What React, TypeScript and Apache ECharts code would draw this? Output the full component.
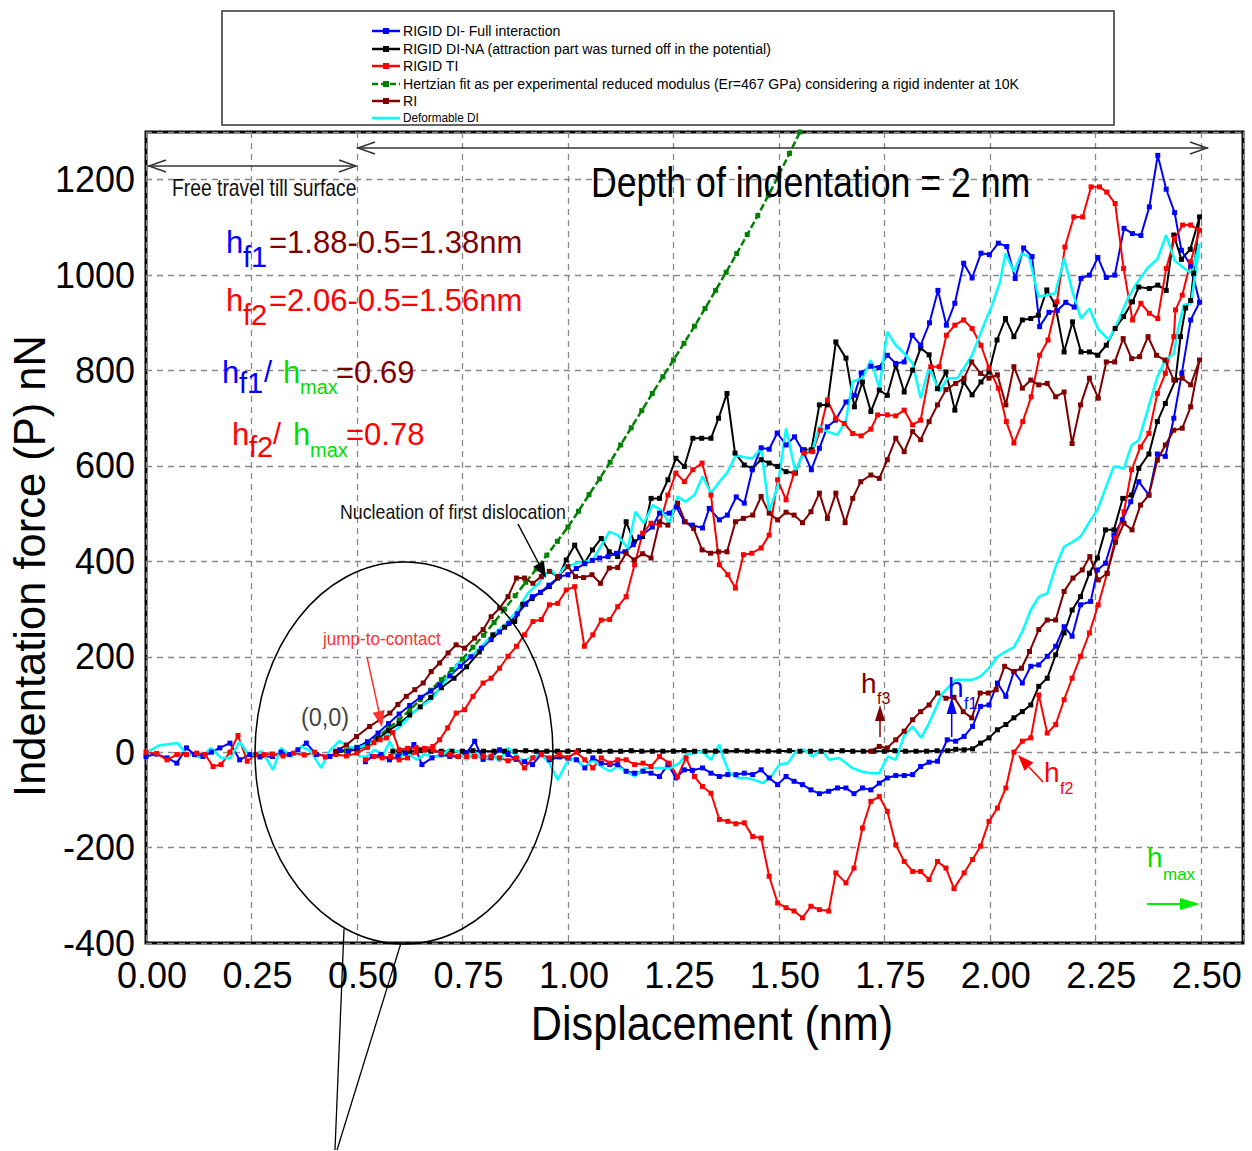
import React, { useEffect, useRef } from "react";
import * as echarts from "echarts";

const REG = "'Liberation Sans', Arial, sans-serif";

const legendNames = [
  "RIGID DI- Full interaction",
  "RIGID DI-NA (attraction part was turned off in the potential)",
  "RIGID TI",
  "Hertzian fit as per experimental reduced modulus (Er=467 GPa) considering a rigid indenter at 10K",
  "RI",
  "Deformable DI",
];

const blueLoad = [
  [0, -9], [0.025, -4], [0.05, -12], [0.073, -23], [0.096, 9], [0.115, -5], [0.135, -9], [0.155, 0], [0.175, 9], [0.199, 19],
  [0.222, -16], [0.246, -5], [0.27, -10], [0.3, -9], [0.32, 0], [0.34, -5], [0.36, 5], [0.38, 19], [0.404, -5], [0.436, -9],
  [0.459, 5], [0.48, 2], [0.5, 10], [0.525, 22], [0.55, 40], [0.575, 60], [0.6, 80], [0.625, 98], [0.65, 115], [0.675, 128],
  [0.696, 141], [0.72, 160], [0.745, 180], [0.77, 200], [0.795, 218], [0.818, 236], [0.838, 252], [0.86, 270], [0.88, 290],
  [0.9, 310], [0.916, 326], [0.935, 335], [0.955, 350], [0.98, 368], [1.0, 372], [1.02, 385], [1.04, 395], [1.058, 402],
  [1.075, 407], [1.095, 410], [1.115, 417], [1.135, 420], [1.155, 435], [1.17, 451], [1.2, 472], [1.217, 501], [1.24, 501],
  [1.257, 514], [1.276, 483], [1.295, 476], [1.319, 470], [1.335, 511], [1.359, 487], [1.378, 497], [1.399, 535], [1.418, 522],
  [1.437, 592], [1.458, 638], [1.477, 635], [1.496, 669], [1.517, 644], [1.537, 661], [1.556, 633], [1.577, 592], [1.596, 637],
  [1.615, 682], [1.634, 696], [1.659, 734], [1.679, 748], [1.695, 795], [1.718, 809], [1.737, 806], [1.757, 832], [1.777, 815],
  [1.797, 818], [1.816, 874], [1.836, 853], [1.857, 900], [1.877, 968], [1.897, 895], [1.917, 941], [1.938, 1025], [1.958, 994],
  [1.979, 1046], [1.999, 1043], [2.02, 1067], [2.04, 1060], [2.06, 993], [2.08, 1057], [2.1, 1039], [2.118, 892], [2.14, 922],
  [2.16, 926], [2.18, 943], [2.2, 933], [2.216, 993], [2.236, 1000], [2.256, 1037], [2.276, 995], [2.296, 1000], [2.318, 1098],
  [2.338, 1087], [2.358, 1083], [2.378, 1143], [2.398, 1251], [2.418, 1180], [2.438, 1131], [2.454, 1052], [2.476, 1020], [2.497, 943],
];
const blueUnload = [
  [2.476, 906], [2.455, 794], [2.436, 700], [2.416, 620], [2.397, 625], [2.377, 539], [2.353, 567], [2.334, 525], [2.314, 487],
  [2.294, 455], [2.274, 396], [2.255, 382], [2.239, 316], [2.215, 309], [2.195, 243], [2.176, 263], [2.156, 222], [2.136, 201],
  [2.116, 183], [2.097, 180], [2.077, 145], [2.057, 169], [2.038, 117], [2.018, 145], [1.998, 99], [1.978, 96], [1.959, 54],
  [1.939, 33], [1.919, 23], [1.899, 26], [1.876, -19], [1.856, -21], [1.836, -30], [1.817, -47], [1.797, -49], [1.777, -49],
  [1.757, -54], [1.738, -65], [1.718, -79], [1.698, -75], [1.678, -87], [1.659, -75], [1.639, -75], [1.618, -82], [1.596, -87],
  [1.576, -79], [1.556, -68], [1.536, -61], [1.517, -51], [1.497, -68], [1.477, -54], [1.458, -37], [1.438, -47], [1.418, -44],
  [1.398, -47], [1.379, -47], [1.359, -51], [1.339, -44], [1.319, -33], [1.295, -38], [1.276, -37], [1.256, -54], [1.237, -26],
  [1.217, -51], [1.197, -44], [1.178, -40], [1.158, -44], [1.138, -40], [1.118, -26], [1.099, -26], [1.079, -23], [1.059, -12],
  [1.04, -33], [1.02, -16], [1.0, -12], [0.98, -10], [0.956, -16], [0.936, -5], [0.916, -26], [0.897, -20], [0.877, -15],
  [0.858, -5], [0.838, 5], [0.818, -12], [0.799, -15], [0.779, 23], [0.76, -2], [0.74, -9], [0.72, -9], [0.7, -5], [0.678, -12],
  [0.654, -26], [0.635, 16], [0.615, -2], [0.597, -9], [0.577, -16], [0.557, -5], [0.537, -9], [0.52, -20],
];

const blackLoad = [
  [0.45, 0], [0.5, 5], [0.525, 15], [0.55, 28], [0.575, 45], [0.6, 60], [0.625, 78], [0.65, 95], [0.675, 115], [0.7, 135],
  [0.73, 155], [0.76, 179], [0.79, 210], [0.822, 246], [0.85, 262], [0.874, 274], [0.893, 310], [0.915, 322], [0.935, 335],
  [0.956, 347], [0.976, 365], [0.996, 403], [1.016, 434], [1.039, 396], [1.058, 424], [1.079, 448], [1.098, 420], [1.118, 410],
  [1.138, 483], [1.157, 441], [1.177, 452], [1.197, 532], [1.217, 532], [1.237, 571], [1.256, 616], [1.276, 599], [1.296, 658],
  [1.317, 658], [1.339, 658], [1.357, 700], [1.377, 752], [1.396, 627], [1.418, 602], [1.437, 595], [1.458, 613], [1.477, 606],
  [1.497, 599], [1.517, 588], [1.539, 585], [1.56, 634], [1.577, 634], [1.596, 728], [1.615, 728], [1.635, 860], [1.659, 826],
  [1.679, 724], [1.698, 776], [1.718, 714], [1.738, 759], [1.757, 748], [1.777, 812], [1.797, 755], [1.817, 801], [1.836, 847],
  [1.856, 833], [1.876, 762], [1.896, 797], [1.917, 717], [1.938, 776], [1.958, 749], [1.979, 776], [1.998, 797], [2.017, 864],
  [2.037, 909], [2.057, 871], [2.077, 906], [2.097, 909], [2.115, 916], [2.135, 969], [2.155, 938], [2.176, 839], [2.196, 902],
  [2.216, 839], [2.236, 839], [2.256, 832], [2.276, 853], [2.297, 888], [2.317, 913], [2.338, 944], [2.353, 975], [2.378, 972],
  [2.398, 979], [2.418, 968], [2.436, 1084], [2.454, 1033], [2.475, 1054], [2.497, 1122],
];
const blackUnload = [
  [2.483, 1004], [2.476, 947], [2.464, 931], [2.452, 871], [2.44, 780], [2.416, 731], [2.397, 693], [2.377, 625], [2.353, 595],
  [2.336, 539], [2.315, 532], [2.294, 466], [2.274, 466], [2.255, 407], [2.236, 375], [2.215, 326], [2.195, 298], [2.176, 250],
  [2.156, 204], [2.136, 155], [2.116, 138], [2.097, 99], [2.077, 85], [2.057, 72], [2.038, 58], [2.018, 47], [1.998, 30],
  [1.978, 19], [1.959, 7], [1.939, 5], [1.919, 6], [1.9, 3],
  [1.875, 3], [1.85, 2], [1.825, 2], [1.8, 2], [1.775, 3], [1.75, 2], [1.725, 2], [1.7, 2], [1.675, 2], [1.65, 3], [1.625, 2],
  [1.6, 2], [1.575, 2], [1.55, 2], [1.525, 3], [1.5, 2], [1.475, 2], [1.45, 2], [1.425, 2], [1.4, 3], [1.375, 2], [1.35, 2],
  [1.325, 2], [1.3, 2], [1.275, 3], [1.25, 2], [1.225, 2], [1.2, 2], [1.175, 2], [1.15, 3], [1.125, 2], [1.1, 2], [1.075, 2],
  [1.05, 2], [1.025, 3], [1.0, 2], [0.975, 2], [0.95, 2], [0.925, 2], [0.9, 3], [0.875, 2], [0.85, 2], [0.825, 2], [0.8, 2],
  [0.775, 3], [0.75, 2], [0.725, 2], [0.7, 2], [0.675, 2], [0.65, 3], [0.625, 2], [0.6, 2], [0.585, 2],
];

const redLoad = [
  [0, 0], [0.025, -3], [0.05, -16], [0.073, -5], [0.096, -5], [0.12, -2], [0.14, -5], [0.159, -30], [0.178, -26], [0.199, 0],
  [0.218, 35], [0.24, -19], [0.26, -5], [0.28, -5], [0.3, -4], [0.325, -8], [0.35, -2], [0.375, -6], [0.4, 0], [0.425, -10],
  [0.45, -5], [0.475, -8], [0.5, -2], [0.525, 10], [0.54, 20], [0.555, 26], [0.57, 30], [0.585, 41], [0.6, 5], [0.62, 8],
  [0.64, 10], [0.66, 8], [0.68, 12], [0.696, 26], [0.715, 51], [0.735, 82], [0.755, 89], [0.775, 117], [0.799, 145], [0.818, 155],
  [0.838, 176], [0.858, 201], [0.878, 222], [0.897, 246], [0.917, 274], [0.937, 278], [0.956, 309], [0.976, 312], [0.996, 340],
  [1.016, 347], [1.039, 222], [1.059, 246], [1.079, 277], [1.099, 278], [1.118, 305], [1.138, 326], [1.158, 393], [1.177, 459],
  [1.197, 480], [1.217, 476], [1.237, 539], [1.256, 585], [1.276, 567], [1.296, 592], [1.318, 606], [1.339, 539], [1.359, 393],
  [1.379, 372], [1.397, 344], [1.416, 414], [1.436, 417], [1.458, 428], [1.477, 455], [1.497, 571], [1.517, 529], [1.536, 585],
  [1.56, 627], [1.58, 630], [1.598, 675], [1.615, 738], [1.635, 700], [1.655, 689], [1.675, 668], [1.695, 663], [1.718, 677],
  [1.734, 707], [1.757, 707], [1.777, 705], [1.797, 717], [1.817, 686], [1.836, 696], [1.86, 808], [1.88, 808], [1.897, 874],
  [1.917, 895], [1.938, 906], [1.958, 888], [1.979, 853], [1.998, 805], [2.02, 763], [2.039, 693], [2.057, 648], [2.078, 693],
  [2.098, 745], [2.118, 832], [2.138, 864], [2.159, 944], [2.178, 1059], [2.199, 1122], [2.22, 1122], [2.24, 1185], [2.26, 1185],
  [2.277, 1174], [2.297, 1150], [2.317, 1014], [2.338, 906], [2.358, 941], [2.378, 920], [2.398, 909], [2.418, 1014], [2.438, 1077],
  [2.457, 1105], [2.476, 1105], [2.497, 1094],
];
const redUnload = [
  [2.476, 1028], [2.456, 958], [2.44, 927], [2.436, 871], [2.416, 794], [2.397, 752], [2.377, 668], [2.357, 640], [2.336, 592],
  [2.318, 504], [2.298, 449], [2.278, 375], [2.257, 309], [2.236, 250], [2.215, 201], [2.195, 155], [2.176, 110], [2.156, 58],
  [2.136, 40], [2.116, 120], [2.097, 30], [2.077, 23], [2.057, 0], [2.038, -75], [2.018, -117], [1.998, -145], [1.978, -197],
  [1.959, -225], [1.939, -253], [1.915, -286], [1.896, -243], [1.876, -229], [1.856, -267], [1.836, -250], [1.817, -250],
  [1.797, -229], [1.777, -194], [1.757, -124], [1.738, -93], [1.718, -103], [1.698, -159], [1.678, -243], [1.659, -274],
  [1.635, -253], [1.618, -333], [1.596, -330], [1.576, -323], [1.556, -347], [1.536, -333], [1.517, -326], [1.497, -316],
  [1.477, -260], [1.458, -180], [1.438, -177], [1.418, -148], [1.398, -150], [1.379, -145], [1.359, -141], [1.339, -86],
  [1.319, -72], [1.3, -51], [1.28, -12], [1.26, -51], [1.24, -23], [1.217, -9], [1.197, -30], [1.178, -23], [1.158, -26],
  [1.138, -16], [1.118, -16], [1.099, -23], [1.079, -12], [1.059, -33], [1.04, -16], [1.02, 0], [1.0, -12], [0.98, -5],
  [0.956, -12], [0.937, -5], [0.917, -12], [0.897, -33], [0.878, -12], [0.858, -18], [0.838, -12], [0.818, -9], [0.799, -9],
  [0.779, -9], [0.76, -9], [0.74, -9], [0.72, -5], [0.7, -2], [0.68, 5], [0.66, 5], [0.64, 0], [0.62, -12], [0.6, -16],
  [0.58, -9], [0.56, -12], [0.54, -9], [0.52, -16],
];

const hertzFit = [
  [0.45, 0], [0.475, 3], [0.5, 10], [0.525, 20], [0.55, 33], [0.575, 50], [0.6, 68], [0.625, 88], [0.65, 110], [0.675, 130],
  [0.7, 152], [0.725, 173], [0.75, 195], [0.775, 220], [0.8, 245], [0.825, 272], [0.85, 300], [0.875, 328], [0.9, 356],
  [0.925, 384], [0.95, 413], [0.975, 442], [1.0, 472], [1.025, 505], [1.05, 540], [1.075, 573], [1.1, 608], [1.125, 644],
  [1.15, 680], [1.175, 716], [1.2, 752], [1.225, 787], [1.25, 822], [1.275, 857], [1.3, 893], [1.325, 930], [1.35, 968],
  [1.375, 1006], [1.4, 1045], [1.425, 1085], [1.45, 1125], [1.475, 1167], [1.5, 1210], [1.525, 1255], [1.55, 1300], [1.575, 1345],
];

const riLoad = [
  [0.45, 2], [0.475, 15], [0.499, 33], [0.53, 54], [0.554, 68], [0.578, 82], [0.597, 100], [0.617, 117], [0.637, 131],
  [0.657, 145], [0.676, 169], [0.696, 187], [0.716, 208], [0.735, 225], [0.755, 218], [0.779, 239], [0.799, 257], [0.818, 284],
  [0.838, 302], [0.858, 326], [0.878, 365], [0.897, 365], [0.917, 354], [0.937, 368], [0.956, 379], [0.976, 368], [1.0, 389],
  [1.018, 368], [1.037, 366], [1.057, 372], [1.077, 354], [1.098, 386], [1.118, 387], [1.138, 417], [1.157, 403], [1.177, 416],
  [1.197, 407], [1.217, 483], [1.237, 476], [1.26, 522], [1.278, 483], [1.298, 469], [1.318, 424], [1.338, 417], [1.357, 420],
  [1.377, 420], [1.397, 483], [1.416, 490], [1.438, 497], [1.458, 536], [1.477, 501], [1.497, 487], [1.517, 503], [1.536, 497],
  [1.556, 481], [1.576, 504], [1.596, 543], [1.615, 490], [1.635, 543], [1.657, 481], [1.675, 532], [1.694, 567], [1.718, 581],
  [1.738, 574], [1.757, 613], [1.777, 658], [1.797, 630], [1.817, 672], [1.836, 655], [1.856, 693], [1.876, 728], [1.896, 760],
  [1.919, 773], [1.939, 784], [1.957, 818], [1.978, 794], [1.998, 784], [2.018, 791], [2.038, 728], [2.057, 808], [2.077, 763],
  [2.097, 780], [2.116, 770], [2.136, 773], [2.156, 745], [2.176, 755], [2.195, 647], [2.215, 728], [2.236, 784], [2.257, 742],
  [2.276, 818], [2.296, 818], [2.316, 867], [2.336, 825], [2.355, 829], [2.375, 871], [2.395, 832], [2.415, 822], [2.436, 780],
  [2.456, 784], [2.476, 770], [2.497, 822],
];
const riUnload = [
  [2.476, 724], [2.456, 679], [2.436, 675], [2.416, 644], [2.397, 612], [2.377, 539], [2.357, 518], [2.337, 466], [2.318, 480],
  [2.298, 440], [2.278, 375], [2.257, 361], [2.237, 410], [2.219, 382], [2.197, 365], [2.176, 337], [2.156, 277], [2.136, 277],
  [2.116, 257], [2.094, 211], [2.075, 176], [2.057, 169], [2.035, 180], [2.015, 131], [1.996, 124], [1.977, 124], [1.957, 72],
  [1.937, 85], [1.915, 115], [1.896, 113], [1.876, 124], [1.856, 99], [1.836, 85], [1.817, 68], [1.797, 44], [1.777, 26],
  [1.757, 9], [1.738, 12], [1.718, 2],
];

const cyanLoad = [
  [0, -2], [0.03, 14], [0.075, 19], [0.096, -3], [0.13, -12], [0.154, 9], [0.178, -12], [0.2, -12], [0.222, 22], [0.246, -8],
  [0.275, 2], [0.301, -37], [0.32, 9], [0.345, -9], [0.368, 12], [0.39, 2], [0.415, -33], [0.435, 2], [0.458, 23], [0.48, 12],
  [0.5, 8], [0.53, 18], [0.56, 30], [0.585, 41], [0.61, 62], [0.632, 82], [0.655, 98], [0.68, 114], [0.71, 150], [0.743, 190],
  [0.78, 208], [0.806, 232], [0.83, 252], [0.854, 270], [0.878, 295], [0.905, 333], [0.93, 354], [0.946, 372], [0.96, 382],
  [0.976, 368], [0.99, 386], [1.02, 396], [1.059, 403], [1.098, 462], [1.118, 455], [1.142, 427], [1.16, 504], [1.18, 480],
  [1.201, 518], [1.22, 508], [1.241, 480], [1.26, 536], [1.278, 525], [1.3, 539], [1.319, 578], [1.339, 543], [1.359, 567],
  [1.379, 588], [1.398, 623], [1.418, 618], [1.437, 616], [1.458, 637], [1.477, 504], [1.497, 557], [1.517, 679], [1.539, 588],
  [1.56, 630], [1.58, 634], [1.596, 682], [1.615, 672], [1.639, 665], [1.659, 696], [1.675, 777], [1.698, 784], [1.718, 822],
  [1.738, 763], [1.757, 881], [1.777, 853], [1.797, 836], [1.817, 815], [1.836, 742], [1.856, 808], [1.88, 756], [1.9, 784],
  [1.923, 784], [1.958, 832], [1.984, 892], [2.004, 934], [2.024, 986], [2.037, 1045], [2.057, 1007], [2.075, 1045], [2.093, 1039],
  [2.115, 955], [2.135, 958], [2.155, 962], [2.176, 1035], [2.196, 965], [2.216, 909], [2.236, 930], [2.256, 888], [2.282, 864],
  [2.307, 909], [2.327, 951], [2.348, 983], [2.373, 1014], [2.398, 1035], [2.418, 1084], [2.438, 1031], [2.458, 1016],
  [2.478, 1004], [2.497, 1066],
];
const cyanUnload = [
  [2.477, 941], [2.46, 938], [2.444, 878], [2.436, 835], [2.416, 822], [2.397, 787], [2.375, 720], [2.353, 654], [2.336, 644],
  [2.318, 595], [2.294, 599], [2.274, 553], [2.255, 508], [2.239, 487], [2.215, 452], [2.195, 440], [2.176, 431], [2.156, 389],
  [2.136, 333], [2.116, 326], [2.097, 298], [2.077, 253], [2.057, 220], [2.038, 211], [2.018, 200], [1.998, 176], [1.978, 159],
  [1.959, 152], [1.939, 152], [1.92, 152], [1.888, 124], [1.856, 61], [1.837, 30], [1.817, 54], [1.797, 35], [1.777, -16],
  [1.758, -9], [1.738, -44], [1.718, -44], [1.694, -40], [1.674, -33], [1.643, -12], [1.619, -16], [1.6, 5], [1.58, -9],
  [1.56, 5], [1.541, 2], [1.521, -23], [1.501, -26], [1.482, -51], [1.462, -65], [1.442, -58], [1.422, -54], [1.403, -54],
  [1.383, -44], [1.367, -9], [1.359, 16], [1.339, -16], [1.319, 2], [1.3, -2], [1.28, -5], [1.264, -23], [1.244, -33],
  [1.221, -33], [1.201, -33], [1.181, -33], [1.158, -51], [1.138, -40], [1.118, -30], [1.099, -40], [1.079, -30], [1.059, -16],
  [1.039, -33], [1.02, -12], [0.999, -19], [0.976, -58], [0.956, -23], [0.937, -5], [0.917, -9], [0.893, -19], [0.858, 9],
  [0.838, -19], [0.818, -5], [0.799, -19], [0.779, 2], [0.759, -16], [0.739, 2], [0.716, 5], [0.7, -9], [0.68, -9], [0.66, -5],
  [0.641, -16], [0.617, 0], [0.597, -16], [0.578, 23], [0.562, -5], [0.542, 5], [0.523, -9], [0.503, -9],
];

const COLORS = ["#0000ff", "#000000", "#ff0000", "#008000", "#800000", "#00ffff"];

function txt(text: string, x: number, y: number, size: number, fill: string, extra: any = {}, el: any = {}) {
  return {
    type: "text",
    x,
    y,
    z: 100,
    silent: true,
    ...el,
    style: {
      text,
      fontSize: size,
      fontFamily: REG,
      fill,
      textAlign: "left",
      textVerticalAlign: "middle",
      align: "left",
      verticalAlign: "middle",
      ...extra,
    },
  };
}
function ln(x1: number, y1: number, x2: number, y2: number, stroke: string, w = 1.5) {
  return { type: "line", z: 100, silent: true, shape: { x1, y1, x2, y2 }, style: { stroke, lineWidth: w } };
}
function poly(points: number[][], fill: string) {
  return { type: "polygon", z: 100, silent: true, shape: { points }, style: { fill } };
}
function chev(points: number[][], stroke: string) {
  return { type: "polyline", z: 100, silent: true, shape: { points }, style: { stroke, lineWidth: 1.5, fill: "none" } };
}

export default function App() {
  const ref = useRef<HTMLDivElement>(null);
  useEffect(() => {
    if (!ref.current) return;
    const chart = echarts.init(ref.current, null, { renderer: "svg" });

    const mk = (name: string, data: number[][], color: string, opts: any = {}) => ({
      name,
      type: "line",
      data,
      symbol: "rect",
      symbolSize: 5,
      clip: true,
      lineStyle: { color, width: 2 },
      itemStyle: { color },
      emphasis: { disabled: true },
      ...opts,
    });

    const legendY = [31, 49, 66, 84, 101, 118];
    const legendEls: any[] = [
      { type: "rect", z: 90, silent: true, shape: { x: 222, y: 11, width: 892, height: 114 }, style: { fill: "#fff", stroke: "#333", lineWidth: 1.5 } },
    ];
    legendNames.forEach((n, i) => {
      const y = legendY[i];
      if (i === 3) {
        legendEls.push({ type: "line", z: 100, silent: true, shape: { x1: 372, y1: y, x2: 400, y2: y }, style: { stroke: COLORS[i], lineWidth: 2.5, lineDash: [6, 3] } });
      } else {
        legendEls.push(ln(372, y, 400, y, COLORS[i], 2.5));
      }
      if (i !== 5) {
        legendEls.push({ type: "rect", z: 101, silent: true, shape: { x: 383, y: y - 3, width: 6, height: 6 }, style: { fill: COLORS[i] } });
      }
      legendEls.push(txt(n, 403, y, i === 5 ? 12 : 15, "#000", {}, { scaleX: i === 5 ? 0.98 : 0.94 }));
    });

    const graphics: any[] = [
      ...legendEls,
      // axis titles
      txt("Indentation force (P) nN", 30, 566, 43.5, "#000", { textAlign: "center", align: "center" }, { rotation: Math.PI / 2 }),
      txt("Displacement (nm)", 712, 1024, 48, "#000", { textAlign: "center", align: "center" }, { scaleX: 0.9 }),
      // free travel arrow
      ln(148, 166, 356, 166, "#333"),
      chev([[166, 160], [149, 166], [166, 172]], "#333"),
      chev([[339, 160], [356, 166], [339, 172]], "#333"),
      txt("Free travel till surface", 172, 188, 23, "#111", {}, { scaleX: 0.84 }),
      // depth arrow
      ln(357, 148, 1208, 148, "#333"),
      chev([[375, 142], [358, 148], [375, 154]], "#333"),
      chev([[1190, 142], [1207, 148], [1190, 154]], "#333"),
      txt("Depth of indentation = 2 nm", 591, 182, 43, "#000", {}, { scaleX: 0.83 }),
      // hf texts
      txt("h", 226, 242, 31, "#0000ff"),
      txt("f1", 243, 257, 29, "#0000ff"),
      txt("=1.88-0.5=1.38nm", 269, 242, 31, "#800000"),
      txt("h", 226, 300, 31, "#ff0000"),
      txt("f2", 243, 315, 29, "#ff0000"),
      txt("=2.06-0.5=1.56nm", 269, 300, 31, "#ff0000"),
      txt("h", 222, 372, 31, "#0000ff"),
      txt("f1", 239, 383, 29, "#0000ff"),
      txt("/", 264, 372, 29, "#0000ff"),
      txt("h", 283, 372, 31, "#00dd00"),
      txt("max", 300, 387, 20, "#00dd00"),
      txt("=0.69", 336, 372, 31, "#800000"),
      txt("h", 232, 434, 31, "#ff0000"),
      txt("f2", 249, 447, 29, "#ff0000"),
      txt("/", 273, 434, 29, "#ff0000"),
      txt("h", 293, 434, 31, "#00dd00"),
      txt("max", 310, 450, 20, "#00dd00"),
      txt("=0.78", 346, 434, 31, "#ff0000"),
      // nucleation
      txt("Nucleation of first dislocation", 340, 511, 21, "#111", {}, { scaleX: 0.846 }),
      ln(518, 524, 539, 564, "#000", 1.5),
      poly([[546, 578], [533.3, 566.6], [543.9, 561]], "#000"),
      // ellipse + callout
      { type: "ellipse", z: 95, silent: true, shape: { cx: 404, cy: 753, rx: 149, ry: 191 }, style: { fill: "none", stroke: "#000", lineWidth: 1.5 } },
      ln(344, 929, 335, 1150, "#000", 1.3),
      ln(401, 943, 337, 1150, "#000", 1.3),
      // jump to contact
      txt("jump-to-contact", 323, 639, 18, "#ff3333", {}, { scaleX: 0.95 }),
      ln(367, 657, 379, 712, "#ff3333", 1.5),
      poly([[382, 727], [372.7, 712.7], [384.5, 710.1]], "#ff3333"),
      txt("(0,0)", 301, 717, 26, "#444", {}, { scaleX: 0.9 }),
      // hf3
      txt("h", 861, 683, 28, "#800000"),
      txt("f3", 877, 698, 16, "#800000"),
      ln(880, 737, 880, 719, "#800000", 1.5),
      poly([[880, 705], [875, 721], [885, 721]], "#800000"),
      // hf1 near curve
      txt("h", 948, 687, 28, "#0000ff"),
      txt("f1", 964, 703, 16, "#0000ff"),
      ln(951.7, 737, 951.7, 713, "#0000ff", 1.5),
      poly([[951.7, 697], [946.7, 714], [956.7, 714]], "#0000ff"),
      // hf2
      txt("h", 1044, 772, 28, "#ff0000"),
      txt("f2", 1060, 788, 16, "#ff0000"),
      ln(1043, 782, 1029, 767, "#ff0000", 1.5),
      poly([[1018, 755], [1033.3, 762.6], [1024.5, 770.8]], "#ff0000"),
      // hmax
      txt("h", 1147, 857, 28, "#00dd00"),
      txt("max", 1163, 874, 17, "#00dd00"),
      ln(1147, 904, 1182, 904, "#00ee00", 2),
      poly([[1200, 904], [1180, 898], [1180, 910]], "#00ee00"),
    ];

    const option: any = {
      animation: false,
      backgroundColor: "#fff",
      grid: { left: 146, top: 132, width: 1097, height: 811, show: true, borderColor: "#000", borderWidth: 3, backgroundColor: "transparent" },
      xAxis: {
        type: "value",
        min: 0,
        max: 2.6,
        interval: 0.25,
        axisLine: { show: false },
        axisTick: { show: false },
        axisLabel: {
          fontSize: 36,
          fontFamily: REG,
          color: "#000",
          margin: 14,
          padding: [0, 0, 0, 12],
          formatter: (v: number) => (Math.abs(v / 0.25 - Math.round(v / 0.25)) < 1e-6 ? v.toFixed(2) : ""),
        },
        splitLine: { show: true, lineStyle: { color: "#888", width: 1.3, type: [6, 5] } },
      },
      yAxis: {
        type: "value",
        min: -400,
        max: 1300,
        interval: 200,
        axisLine: { show: false },
        axisTick: { show: false },
        axisLabel: {
          fontSize: 36,
          fontFamily: REG,
          color: "#000",
          margin: 11,
          formatter: (v: number) => (v % 200 === 0 && v <= 1200 ? String(v) : ""),
        },
        splitLine: { show: true, lineStyle: { color: "#888", width: 1.3, type: [6, 5] } },
      },
      series: [
        mk(legendNames[3], hertzFit, COLORS[3], { symbolSize: 5, lineStyle: { color: COLORS[3], width: 2.5, type: [7, 3] } }),
        mk(legendNames[1], [...blackLoad, ...blackUnload], COLORS[1]),
        mk(legendNames[0], [...blueLoad, ...blueUnload], COLORS[0]),
        mk(legendNames[2], [...redLoad, ...redUnload], COLORS[2]),
        mk(legendNames[4], [...riLoad, ...riUnload], COLORS[4]),
        mk(legendNames[5], [...cyanLoad, ...cyanUnload], COLORS[5], { symbol: "none", showSymbol: false, lineStyle: { color: COLORS[5], width: 2.5 } }),
      ],
      graphic: graphics,
    };
    chart.setOption(option);
    return () => chart.dispose();
  }, []);
  return (
    <div
      ref={ref}
      style={{ position: "fixed", left: 0, top: 0, width: 1252, height: 1151, background: "#fff" }}
    />
  );
}
